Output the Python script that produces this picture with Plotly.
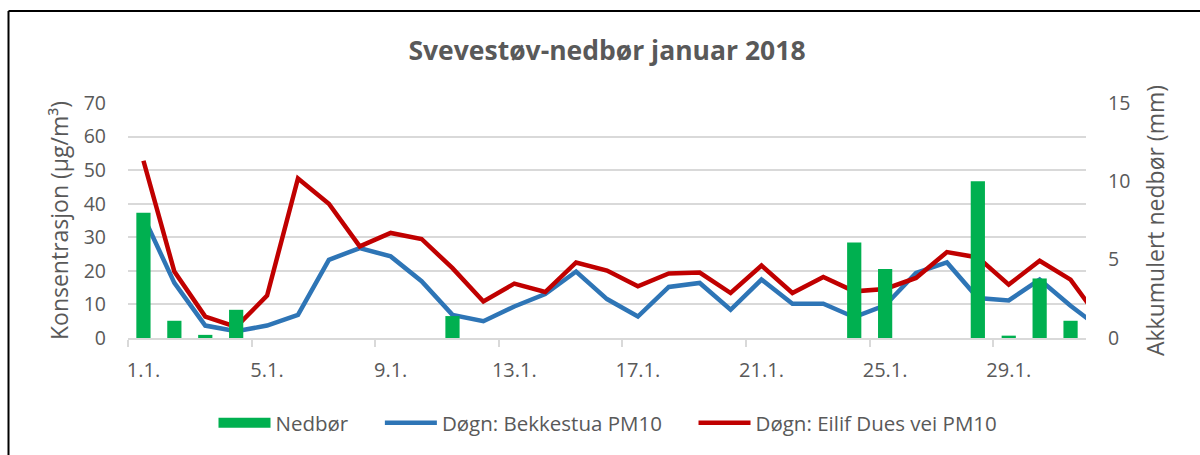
import plotly.graph_objects as go

# ---- data ----
days = list(range(1, 33))  # day 32 (1.2.) only partially visible at right edge
tick_days = [1, 5, 9, 13, 17, 21, 25, 29]
tick_labels = ["1.1.", "5.1.", "9.1.", "13.1.", "17.1.", "21.1.", "25.1.", "29.1."]

nedbor_days = list(range(1, 32))
nedbor = [8.0, 1.1, 0.2, 1.8, 0, 0, 0, 0, 0, 0, 1.4, 0, 0, 0, 0, 0,
          0, 0, 0, 0, 0, 0, 0, 6.1, 4.4, 0, 0, 10.0, 0.15, 3.8, 1.1]
bekkestua = [36.2, 16.4, 3.7, 2.0, 3.7, 6.9, 23.3, 26.8, 24.3, 16.9, 6.9, 5.0,
             9.4, 13.1, 19.8, 11.6, 6.4, 15.2, 16.4, 8.4, 17.4, 10.2, 10.2, 6.2,
             9.7, 19.4, 22.5, 11.9, 11.2, 17.4, 9.6, 2.6]
eilif = [52.8, 19.8, 6.4, 3.3, 12.6, 47.5, 40.0, 27.3, 31.3, 29.5, 20.8, 10.9,
         16.2, 13.7, 22.5, 20.1, 15.4, 19.2, 19.5, 13.4, 21.6, 13.4, 18.2, 13.9,
         14.6, 17.9, 25.6, 24.0, 15.9, 23.0, 17.4, 4.8]

names = ["Nedbør", "Døgn: Bekkestua PM10", "Døgn: Eilif Dues vei PM10"]
title = "Svevestøv-nedbør januar 2018"
y_title = "Konsentrasjon (µg/m³)"
y2_title = "Akkumulert nedbør (mm)"

# ---- style ----
W, H = 1200, 455
ML, MR, MT, MB = 128, 114, 103, 117
TXT = "#595959"
GRID = "#d9d9d9"
GREEN, BLUE, RED = "#00B050", "#2E75B6", "#C00000"
FONT = "Open Sans"
PAD = "\u00a0" * 5

fig = go.Figure()
fig.add_trace(go.Bar(x=nedbor_days, y=nedbor, name=names[0], yaxis="y2",
                     marker=dict(color=GREEN, line=dict(width=0)), width=0.46,
                     showlegend=False))
# legend entry for precipitation (wide green box like the original)
fig.add_trace(go.Scatter(x=[None], y=[None], name=names[0] + PAD, mode="lines",
                         line=dict(color=GREEN, width=15), yaxis="y2"))
fig.add_trace(go.Scatter(x=days, y=bekkestua, name=names[1] + PAD, mode="lines",
                         line=dict(color=BLUE, width=4.5)))
fig.add_trace(go.Scatter(x=days, y=eilif, name=names[2], mode="lines",
                         line=dict(color=RED, width=4.5)))

pw = W - ML - MR
ph = H - MT - MB

fig.update_layout(
    width=W, height=H,
    margin=dict(l=ML, r=MR, t=MT, b=MB, autoexpand=False),
    paper_bgcolor="white", plot_bgcolor="white",
    font=dict(family=FONT, color=TXT, size=18),
    title=dict(text="<b>" + title + "</b>", x=607 / W, xanchor="center",
               y=1 - 51 / H, yanchor="middle",
               font=dict(family=FONT, size=26.5, color=TXT)),
    barmode="overlay",
    xaxis=dict(range=[0.5, 31.5], tickmode="array", tickvals=tick_days,
               ticktext=tick_labels, ticks="", showgrid=False, zeroline=False,
               showline=True, linecolor=GRID, linewidth=1.5,
               tickfont=dict(size=20, color=TXT), ticklabelstandoff=13,
               minor=dict(tickmode="array", tickvals=[d - 0.5 for d in tick_days],
                          ticks="outside", ticklen=7, tickcolor=GRID, tickwidth=1.5,
                          showgrid=False)),
    yaxis=dict(range=[0, 70], dtick=10, showgrid=True, gridcolor=GRID, gridwidth=1.5,
               zeroline=False, showline=False, ticks="",
               tickfont=dict(size=19.5, color=TXT), ticklabelstandoff=21,
               title=dict(text=y_title, font=dict(size=23, color=TXT), standoff=8)),
    yaxis2=dict(range=[0, 15], dtick=5, overlaying="y", side="right", showgrid=False,
                zeroline=False, showline=False, ticks="",
                tickfont=dict(size=19.5, color=TXT), ticklabelstandoff=21,
                title=dict(text=y2_title, font=dict(size=23, color=TXT), standoff=18)),
    legend=dict(orientation="h", x=(608 - ML) / pw, xanchor="center",
                y=(H - MB - 423) / ph, yanchor="middle",
                font=dict(size=20.5, color=TXT), traceorder="normal",
                itemwidth=52, bgcolor="rgba(0,0,0,0)"),
    showlegend=True,
)

# chart frame: left and top edges (right and bottom lie outside the window)
fx0 = (8.5 - ML) / pw
fy1 = (H - MB - 11) / ph
fig.add_shape(type="line", xref="paper", yref="paper", x0=fx0, x1=fx0,
              y0=(H - MB - 480) / ph, y1=fy1, line=dict(color="black", width=2))
fig.add_shape(type="line", xref="paper", yref="paper", x0=fx0, x1=(W + 20 - ML) / pw,
              y0=fy1, y1=fy1, line=dict(color="black", width=2))

fig.write_html("out.html", config={"displayModeBar": False},
               post_script="document.body.style.margin='0';document.body.style.overflow='hidden';")
